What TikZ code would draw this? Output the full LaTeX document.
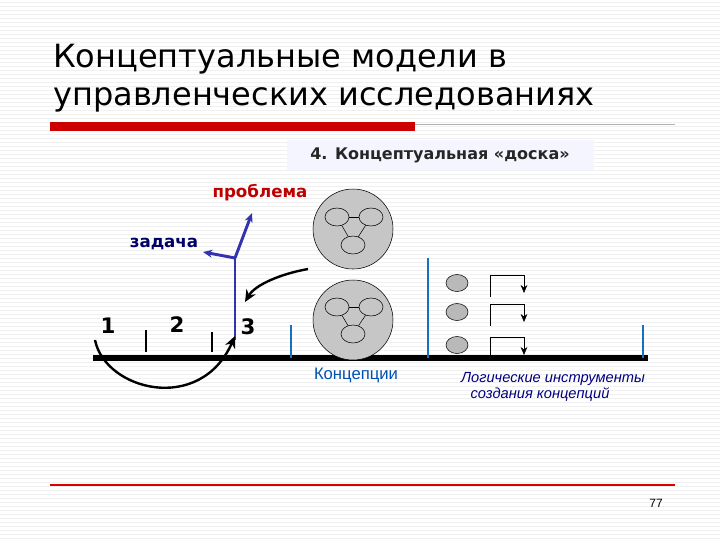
\documentclass[tikz,border=0pt]{standalone}
\usepackage{fontspec}
\setmainfont{Liberation Sans}
\newfontfamily\dv{DejaVu Sans}
\usetikzlibrary{arrows.meta,shapes.geometric}
\begin{document}
\begin{tikzpicture}[x=0.75pt,y=-0.75pt,
  blu/.style={draw=blue!60!black!80, line width=2.2pt},
  tk/.style={draw=black, line width=2pt},
  btk/.style={draw=cyan!50!blue, line width=2pt},
  big/.style={circle, draw=black, fill=gray!45, minimum size=80pt*0.75, inner sep=0pt},
  inn/.style={ellipse, draw=black, fill=gray!45, minimum width=24pt*0.75, minimum height=18pt*0.75, inner sep=0pt},
  sm/.style={ellipse, draw=black, fill=gray!55, minimum width=22pt*0.75, minimum height=17pt*0.75, inner sep=0pt},
  lbl/.style={inner sep=0pt, anchor=center},
  carrow/.style={-{Stealth[length=9pt,width=8pt]}, line width=1.8pt}
]
\useasboundingbox (0,0) rectangle (720,540);
\fill[white] (0,0) rectangle (720,540);
\foreach \y in {2,6,...,538} \draw[gray!12, line width=0.5pt] (0,\y) -- (720,\y);
% title
\node[anchor=west, inner sep=0pt, font=\dv\fontsize{24}{30}\selectfont] (t1) at (53,59) {Концептуальные модели в};
\node[anchor=west, inner sep=0pt, font=\dv\fontsize{24}{30}\selectfont] (t2) at (53,100) {управленческих исследованиях};
\draw[gray!60, line width=0.6pt] (50,124) -- (675,124);
\fill[red!80!black] (50,122) rectangle (415,131);
\draw[red!85!black, line width=0.8pt] (50,485) -- (675,485);
\node[font=\fontsize{9}{10}\selectfont] (pg) at (656,503) {77};
% header
\node[draw=none, fill=blue!4, minimum width=307pt*0.75, minimum height=30pt*0.75, font=\dv\bfseries\fontsize{12}{14}\selectfont, text=black!85] (hd) at (440,155) {4. Концептуальная «доска»};
\node[lbl, text=red!75!black, font=\dv\bfseries\fontsize{12.5}{14}\selectfont] (pr) at (260,193) {проблема};
\node[lbl, text=blue!40!black, font=\dv\bfseries\fontsize{12.5}{14}\selectfont] (zd) at (164,244) {задача};
% baseline
\coordinate (b0) at (93,358); \coordinate (b1) at (648,358);
\draw[line width=4pt] (b0) -- (b1);
\draw[tk] (146,330) -- (146,352);
\draw[tk] (212,332) -- (212,352);
\draw[btk] (291,325) -- (291,358);
\draw[btk] (428,258) -- (428,358);
\draw[btk] (643,325) -- (643,358);
\node[lbl, font=\dv\bfseries\fontsize{16}{18}\selectfont] (n1) at (108,326) {1};
\node[lbl, font=\dv\bfseries\fontsize{16}{18}\selectfont] (n2) at (177,325) {2};
\node[lbl, font=\dv\bfseries\fontsize{16}{18}\selectfont] (n3) at (248,327) {3};
% blue fork
\coordinate (f0) at (235,340); \coordinate (f1) at (235,258);
\coordinate (fp) at (252,213); \coordinate (fz) at (203,252);
\draw[blu] (f0) -- (f1);
\draw[blu, -{Stealth[length=7pt,width=6pt]}] (f1) -- (fp);
\draw[blu, -{Stealth[length=7pt,width=6pt]}] (f1) -- (fz);
% circles
\node[big] (c1) at (353,229) {};
\node[inn] (a1) at (337,217) {}; \node[inn] (a2) at (371,217) {}; \node[inn] (a3) at (353,245) {};
\draw (a1) -- (a2); \draw (a1) -- (a3); \draw (a2) -- (a3);
\node[big] (c2) at (353,320) {};
\node[inn] (b1a) at (337,307) {}; \node[inn] (b2a) at (371,307) {}; \node[inn] (b3a) at (353,334) {};
\draw (b1a) -- (b2a); \draw (b1a) -- (b3a); \draw (b2a) -- (b3a);
% curved arrows
\coordinate (ca0) at (308,269); \coordinate (ca1) at (245,302);
\draw[carrow] (ca0) .. controls (280,274) and (255,285) .. (ca1);
\coordinate (cb0) at (95,340); \coordinate (cb1) at (235,336);
\draw[carrow] (cb0) .. controls (105,390) and (200,415) .. (cb1);
% logic tools
\foreach \i/\dy in {1/0,2/29,3/62} {
  \node[sm] (s\i) at (457,283+\dy) {};
  \coordinate (p\i) at (490,297+\dy);
  \coordinate (q\i) at (524,293+\dy);
  \draw[-{Stealth[length=6pt,width=5pt]}] (p\i) |- (524,275+\dy) -- (q\i);
}
\node[lbl, text=blue!55!cyan!70!black, font=\fontsize{12.5}{14}\selectfont] (kc) at (356,375) {Концепции};
\node[lbl, text=blue!50!black, font=\itshape\fontsize{11}{13}\selectfont] (lg1) at (553,379) {Логические инструменты};
\node[lbl, text=blue!50!black, font=\itshape\fontsize{11}{13}\selectfont] (lg2) at (540,395) {создания концепций};
\end{tikzpicture}
\end{document}
